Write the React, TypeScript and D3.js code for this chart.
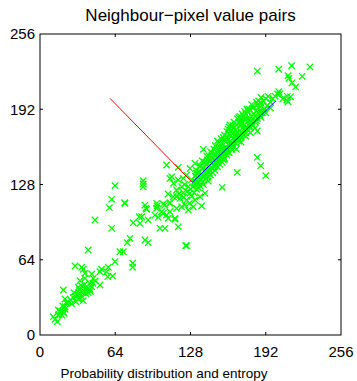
import React from "react";
import * as d3 from "d3";

const title = "Neighbour\u2212pixel value pairs";
const xLabel = "Probability distribution and entropy";
const tickValues = [0, 64, 128, 192, 256];

const lowCluster: [number, number][] = [
  [12.8, 13.3], [14.7, 11.3], [11.3, 15.6], [15.6, 17], [18.5, 17], [17, 20.4], [20.4, 18.5], [21.3, 21.9],
  [19.3, 24.7], [15.6, 21.3], [19.8, 19.8], [21.3, 24], [22.7, 27.5], [27, 26.4], [21.3, 30.6], [22.7, 27],
  [19.8, 38.3], [28.3, 32], [32.6, 30.4], [36.8, 29.2], [30.6, 28.3], [31.7, 34], [35.5, 32.6], [33.4, 38.3],
  [36.8, 36], [41, 36], [35.5, 41.7], [39.7, 41.1], [44, 41.1], [42.5, 38.9], [42.5, 44], [32.6, 40.6],
  [34, 46.2], [38.3, 48.2], [45.3, 48.2], [44, 51.9], [38.3, 52.5], [36.8, 55.9], [29.8, 58.7], [35.5, 57.6],
  [51, 42.5], [51, 53.8], [52.4, 55.9], [56.7, 53.8], [57.6, 49.6], [61.8, 50.2], [58.1, 57.6], [63.8, 62.3],
  [68, 70.8], [70.8, 70.8], [74.2, 78.5], [76.5, 82.2], [78.8, 61], [78.8, 57.6], [41, 72.3], [46.8, 97.8],
  [61, 90.7], [79.3, 95.5], [84.4, 100.6], [59, 108.3], [61, 115.4], [72.3, 112], [63.8, 127], [87.8, 128.4],
  [87.8, 126], [87.8, 131.2], [37, 38], [39, 35], [40, 39], [43, 37], [38, 43], [34, 35], [30, 33], [26, 30],
  [24, 28], [33, 31], [29, 36], [45, 44], [47, 46],
];

const midScatter: [number, number][] = [
  [89.3, 110.5], [90.7, 106.9], [86.5, 100.6], [85, 95], [92, 97.8], [89.3, 80.8], [92, 78.5], [99.2, 107.7],
  [104.8, 103.5], [102, 90.7], [106.3, 90.7], [100.6, 100], [110.5, 104.8], [109, 99.2], [114.8, 98.4],
  [117.6, 92], [116.2, 107.7], [120.5, 109.1], [124.7, 76], [109, 119.9], [116.2, 117.6], [104.8, 111.4],
  [110.5, 112.5], [72, 112.5], [90.1, 107.7], [99.7, 109.7], [112, 134.6], [107.7, 144.6], [117.6, 142.6],
  [110.5, 133.2], [113.4, 129], [117.6, 131.8], [121.9, 133.2], [124.7, 136], [120.5, 126.1], [126.1, 126.1],
  [116.2, 123.3], [121.9, 121], [127.6, 120.5], [133.2, 123.9], [136, 117.6], [131.8, 114.8], [124.7, 114.8],
  [119, 116.2], [113.4, 117.6], [110.5, 112], [106.3, 110.5], [99.2, 112], [103.5, 104.8], [97.8, 102],
  [107.7, 102], [126.1, 106.3], [137.5, 109.7], [114.8, 99.2], [123.3, 110.5], [130.4, 109.1],
  [140.3, 120.5], [134.6, 130.4], [133.2, 137.5], [127.6, 141.7], [136, 143.1], [131.8, 146], [123, 128],
  [118, 120], [129, 118], [125, 122], [128, 124], [122, 117], [131, 121], [127, 112],
];

const denseBody: [number, number][] = [
  [129, 132], [131, 129], [132, 135], [133, 128], [134, 134], [135, 139], [136, 132], [136, 127], [137, 136],
  [138, 142], [138, 130], [139, 135], [140, 139], [141, 133], [141, 145], [142, 137], [143, 143], [143, 131],
  [144, 140], [145, 148], [145, 136], [146, 142], [147, 151], [147, 138], [148, 145], [149, 140], [149, 154],
  [150, 148], [151, 143], [151, 157], [152, 150], [153, 145], [153, 160], [154, 153], [155, 147], [155, 163],
  [156, 156], [157, 150], [157, 166], [158, 159], [159, 153], [159, 168], [160, 162], [161, 155], [161, 171],
  [162, 165], [163, 158], [163, 174], [164, 167], [165, 160], [165, 176], [166, 169], [167, 163], [167, 179],
  [168, 172], [169, 165], [169, 181], [170, 174], [171, 168], [171, 183], [172, 176], [173, 170], [173, 186],
  [174, 179], [175, 172], [175, 188], [176, 181], [177, 174], [177, 190], [178, 183], [179, 176], [180, 186],
  [181, 178], [181, 193], [182, 188], [183, 181], [184, 191], [185, 184], [185, 196], [186, 193], [187, 187],
  [188, 197], [189, 189], [190, 199], [191, 192], [192, 201], [193, 195], [194, 203], [196, 198], [198, 201],
  [200, 203], [204, 205], [150, 146], [152, 156], [154, 158], [156, 149], [158, 164], [160, 166], [162, 160],
  [164, 171], [166, 174], [168, 168], [170, 178], [172, 181], [174, 175], [176, 184], [178, 178], [180, 181],
  [146, 155], [148, 158], [144, 152], [142, 149], [140, 147], [152, 163], [156, 168], [160, 175], [164, 178],
  [168, 184], [170, 186], [174, 190], [178, 192], [182, 194], [186, 199], [139, 142], [141, 147], [146, 150],
  [155, 152], [157, 158], [163, 163], [167, 168], [171, 172], [175, 177], [179, 182], [183, 186], [187, 190],
  [148, 149], [153, 152], [158, 156], [162, 170], [166, 166], [170, 170], [134, 137], [137, 132], [132, 131],
  [135, 125], [139, 128], [143, 134], [147, 142], [151, 147], [155, 151], [159, 157], [163, 161], [167, 158],
  [171, 164], [175, 169], [179, 172], [183, 176],
  [133, 140], [136, 144], [138, 148], [142, 152], [145, 156], [149, 161], [151, 165], [154, 167], [157, 170],
  [159, 173], [161, 177], [165, 181], [169, 185], [172, 188], [176, 192], [180, 196], [184, 198], [188, 202],
  [140, 135], [144, 138], [148, 143], [152, 148], [156, 152], [160, 158], [164, 163], [168, 167], [172, 171],
  [176, 175], [180, 179], [184, 182], [188, 185], [192, 189], [196, 193], [130, 126], [134, 129], [138, 136],
  [142, 140], [146, 146], [150, 151], [154, 155], [158, 160], [162, 163], [166, 171], [170, 181], [174, 184],
];

const upperOutliers: [number, number][] = [
  [184.8, 224.5], [203, 226], [214, 229], [211, 220.5], [211.7, 218.3], [214.3, 214.5], [217.4, 211],
  [223, 220], [229.6, 228], [202, 205], [209.8, 199.8], [213, 202.6], [206.4, 200.7], [211, 198.4],
  [203, 207], [210.3, 203], [184.8, 173.5], [184.8, 151], [187.7, 144], [192, 135.5], [167.8, 138.3],
  [155, 125.6], [138.9, 157.9], [123.9, 76], [161.6, 178.6], [187.7, 197.9], [189.9, 191.3],
];

const meanPoint: [number, number] = [129.5, 129.8];
const pc1End: [number, number] = [200.7, 199.2];
const pc2End: [number, number] = [59.5, 201.3];

const W = 357;
const H = 381;
const left = 40, right = 341, top = 34, bottom = 335;

export default function App() {
  const x = d3.scaleLinear().domain([0, 256]).range([left, right]);
  const y = d3.scaleLinear().domain([0, 256]).range([bottom, top]);
  const allPts = [...lowCluster, ...midScatter, ...denseBody, ...upperOutliers];
  const s = 3.2;
  const font = "'Liberation Sans', Arial, Helvetica, sans-serif";
  const tl = 3;
  const inner = [64, 128, 192];
  return (
    <svg width={W} height={H} style={{ position: "absolute", left: 0, top: 0, background: "#fff" }}>
      <rect x={0} y={0} width={W} height={H} fill="#fff" />
      <g>
        {allPts.map((p, i) => {
          const cx = x(p[0]);
          const cy = y(p[1]);
          return (
            <path
              key={i}
              d={`M${cx - s},${cy - s}L${cx + s},${cy + s}M${cx - s},${cy + s}L${cx + s},${cy - s}`}
              stroke="#00ff00"
              strokeWidth={1.3}
              fill="none"
            />
          );
        })}
      </g>
      <line x1={x(pc2End[0])} y1={y(pc2End[1])} x2={x(meanPoint[0])} y2={y(meanPoint[1])} stroke="#ff0000" strokeWidth={1} />
      <line x1={x(meanPoint[0])} y1={y(meanPoint[1])} x2={x(pc1End[0])} y2={y(pc1End[1])} stroke="#0000ff" strokeWidth={1} />
      <rect x={left} y={top} width={right - left} height={bottom - top} fill="none" stroke="#000" strokeWidth={1} />
      {inner.map((v) => (
        <g key={v} stroke="#000" strokeWidth={1}>
          <line x1={x(v)} x2={x(v)} y1={bottom} y2={bottom - tl} />
          <line x1={x(v)} x2={x(v)} y1={top} y2={top + tl} />
          <line x1={left} x2={left + tl} y1={y(v)} y2={y(v)} />
          <line x1={right} x2={right - tl} y1={y(v)} y2={y(v)} />
        </g>
      ))}
      {tickValues.map((v) => (
        <text key={"x" + v} x={x(v)} y={356.5} textAnchor="middle" fontFamily={font} fontSize={15} fill="#000">
          {v}
        </text>
      ))}
      {tickValues.map((v) => (
        <text key={"y" + v} x={35} y={y(v)} dy="0.36em" textAnchor="end" fontFamily={font} fontSize={15} fill="#000">
          {v}
        </text>
      ))}
      <text x={190.5} y={20.5} textAnchor="middle" fontFamily={font} fontSize={17} fill="#000">
        {title}
      </text>
      <text x={164} y={378} textAnchor="middle" fontFamily={font} fontSize={13.5} fill="#000">
        {xLabel}
      </text>
    </svg>
  );
}
